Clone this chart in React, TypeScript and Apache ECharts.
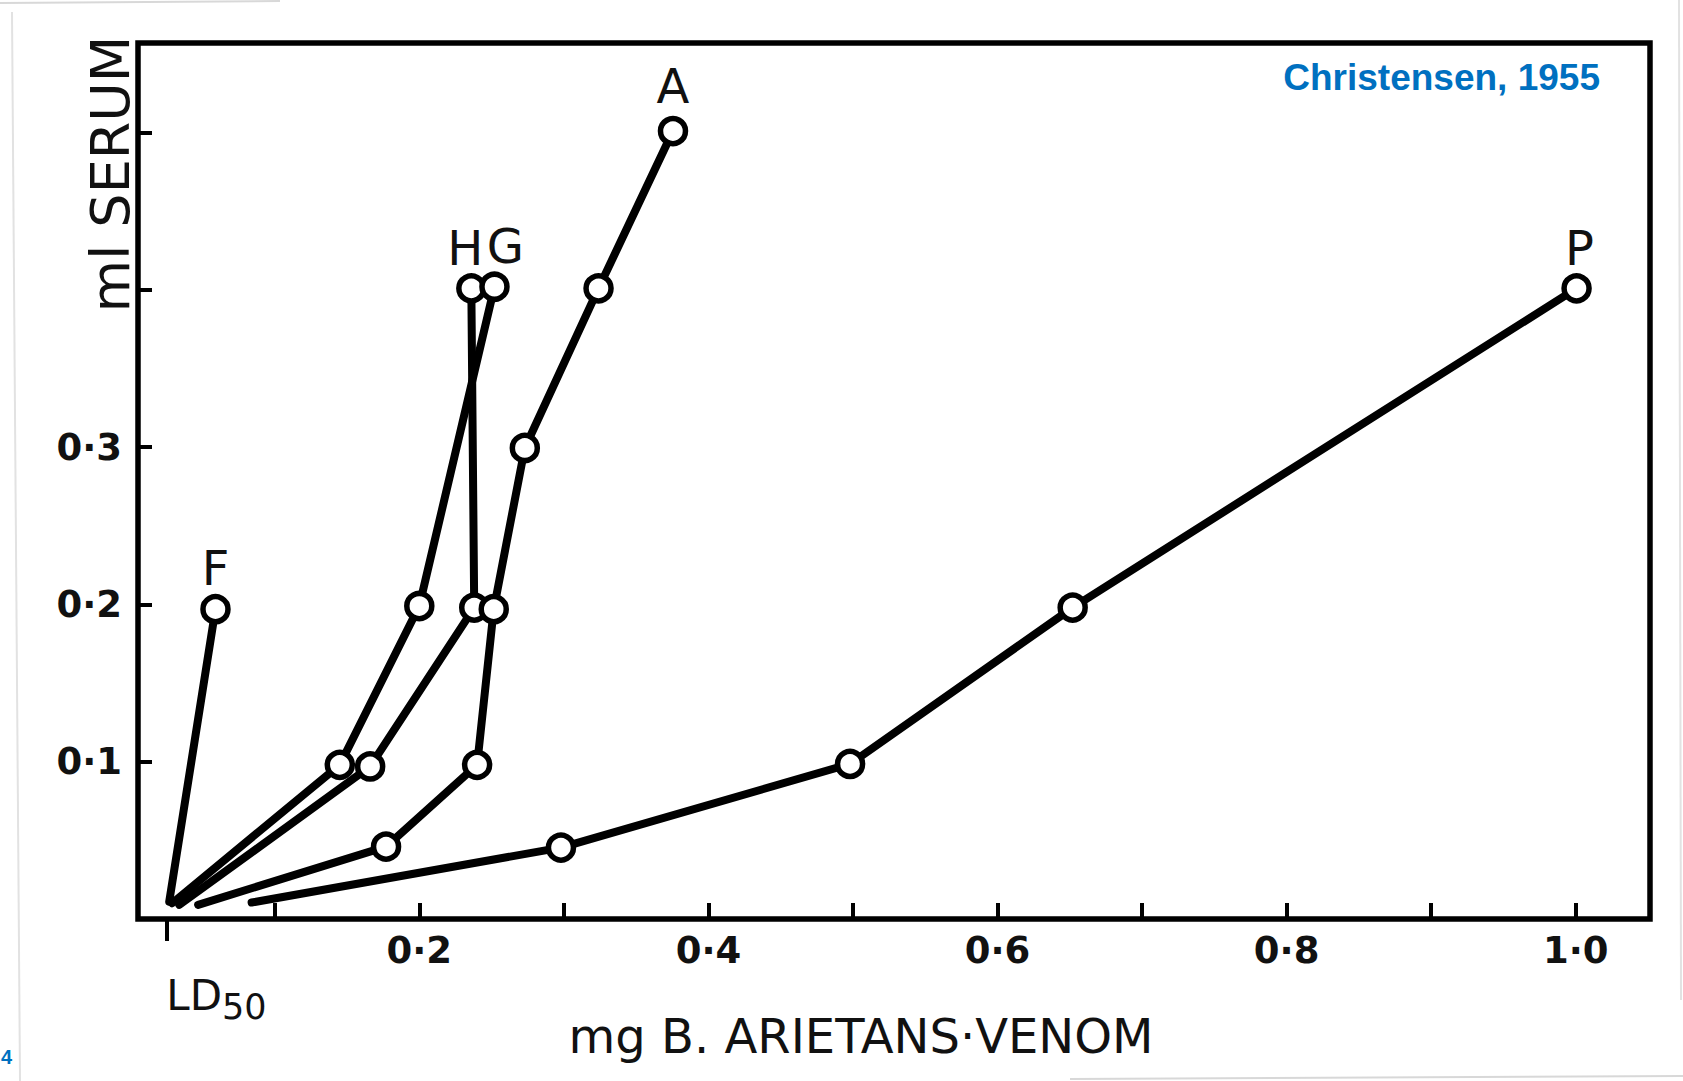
import React, { useEffect, useRef } from "react";
import * as echarts from "echarts";

// ---- data (mg venom, ml serum) ----
const F_X = [0.027, 0.059];
const F_Y = [0.011, 0.197];
const H_X = [0.034, 0.166, 0.238, 0.236];
const H_Y = [0.009, 0.097, 0.198, 0.401];
const G_X = [0.029, 0.145, 0.2, 0.252];
const G_Y = [0.01, 0.098, 0.199, 0.402];
const A_X = [0.047, 0.177, 0.24, 0.2515, 0.273, 0.324, 0.3755];
const A_Y = [0.009, 0.046, 0.098, 0.197, 0.2995, 0.401, 0.501];
const P_X = [0.084, 0.298, 0.498, 0.652, 1.0006];
const P_Y = [0.0105, 0.0454, 0.0986, 0.198, 0.401];

const SERIES_NAMES = ["F", "H", "G", "A", "P"];
const X_TICKS = [0.1, 0.2, 0.3, 0.4, 0.5, 0.6, 0.7, 0.8, 0.9, 1.0];
const X_LABELS = [0.2, 0.4, 0.6, 0.8, 1.0];
const Y_TICKS = [0.1, 0.2, 0.3, 0.4, 0.5];
const Y_LABELS = [0.1, 0.2, 0.3];
const LD50 = [0.025];

const X_MIN = 0.0054;
const X_MAX = 1.0514;
const Y_MIN = 0;
const Y_MAX = 0.557;

const FONT = "DejaVu Sans";
const INK = "#111";

function fmt(v: number) {
  return v.toFixed(1).replace(".", "·");
}

function build(xs: number[], ys: number[], name: string, off: number[]) {
  return xs.map((x, i) => {
    const item: any = { value: [x, ys[i]] };
    if (i === 0) item.symbol = "none";
    if (i === xs.length - 1) {
      item.label = {
        show: true,
        position: "inside",
        formatter: name,
        offset: off,
        fontFamily: FONT,
        fontSize: 48,
        color: INK,
      };
    }
    return item;
  });
}

export default function App() {
  const ref = useRef<HTMLDivElement>(null);

  useEffect(() => {
    document.body.style.margin = "0";
    if (!ref.current) return;
    const chart = echarts.init(ref.current, null, { renderer: "svg" });

    const offsets: Record<string, number[]> = {
      F: [0, -41],
      H: [-6, -40],
      G: [11, -41],
      A: [0, -45],
      P: [3, -40],
    };
    const sets: Record<string, [number[], number[]]> = {
      F: [F_X, F_Y],
      H: [H_X, H_Y],
      G: [G_X, G_Y],
      A: [A_X, A_Y],
      P: [P_X, P_Y],
    };

    const series = SERIES_NAMES.map((n) => ({
      type: "line",
      name: n,
      xAxisIndex: 0,
      yAxisIndex: 0,
      data: build(sets[n][0], sets[n][1], n, offsets[n]),
      symbol: "circle",
      symbolSize: 25,
      showAllSymbol: true,
      lineStyle: { color: "#000", width: 8, cap: "round", join: "round" },
      itemStyle: { color: "#fff", borderColor: "#000", borderWidth: 5.5 },
      emphasis: { disabled: true },
      clip: false,
    }));

    chart.setOption({
      animation: false,
      backgroundColor: "#fff",
      grid: {
        left: 138,
        right: 33,
        top: 43,
        bottom: 162,
        show: true,
        borderColor: "#000",
        borderWidth: 5.5,
        backgroundColor: "transparent",
      },
      xAxis: [
        {
          type: "value",
          min: X_MIN,
          max: X_MAX,
          position: "bottom",
          axisLine: { show: false },
          splitLine: { show: false },
          axisTick: {
            show: true,
            inside: true,
            length: 16,
            customValues: X_TICKS,
            lineStyle: { color: "#000", width: 4 },
          },
          axisLabel: {
            show: true,
            customValues: X_LABELS,
            formatter: (v: number) => fmt(v),
            margin: 13,
            fontFamily: FONT,
            fontWeight: "bold",
            fontSize: 37,
            color: INK,
          },
        },
        {
          type: "value",
          min: X_MIN,
          max: X_MAX,
          position: "bottom",
          offset: 0,
          axisLine: { show: false },
          splitLine: { show: false },
          axisTick: {
            show: true,
            inside: false,
            length: 22,
            customValues: LD50,
            lineStyle: { color: "#000", width: 4 },
          },
          axisLabel: {
            show: true,
            customValues: LD50,
            formatter: () => "{a|LD}{b|50}",
            align: "left",
            margin: 55,
            rich: {
              a: { fontFamily: FONT, fontSize: 42, lineHeight: 42, verticalAlign: "top", color: INK },
              b: {
                fontFamily: FONT,
                fontSize: 35,
                lineHeight: 35,
                padding: [15, 0, 0, 0],
                verticalAlign: "top",
                color: INK,
              },
            },
          },
        },
      ],
      yAxis: {
        type: "value",
        min: Y_MIN,
        max: Y_MAX,
        axisLine: { show: false },
        splitLine: { show: false },
        axisTick: {
          show: true,
          inside: true,
          length: 14,
          customValues: Y_TICKS,
          lineStyle: { color: "#000", width: 4 },
        },
        axisLabel: {
          show: true,
          customValues: Y_LABELS,
          formatter: (v: number) => fmt(v),
          margin: 16,
          fontFamily: FONT,
          fontWeight: "bold",
          fontSize: 37,
          color: INK,
        },
      },
      series,
      graphic: [
        {
          type: "text",
          x: 110,
          y: 174,
          rotation: Math.PI / 2,
          style: {
            text: "ml SERUM",
            fontFamily: FONT,
            fontSize: 54,
            fill: INK,
            align: "center",
            verticalAlign: "middle",
          },
        },
        {
          type: "text",
          x: 861,
          y: 1036,
          style: {
            text: "mg B. ARIETANS·VENOM",
            fontFamily: FONT,
            fontSize: 48,
            fill: INK,
            align: "center",
            verticalAlign: "middle",
          },
        },
        {
          type: "text",
          x: 1600,
          y: 77,
          style: {
            text: "Christensen, 1955",
            fontFamily: "Liberation Sans",
            fontWeight: "bold",
            fontSize: 37,
            fill: "#0070C0",
            align: "right",
            verticalAlign: "middle",
          },
        },
        {
          type: "text",
          x: 1,
          y: 1057,
          style: {
            text: "4",
            fontFamily: "Liberation Sans",
            fontWeight: "bold",
            fontSize: 20,
            fill: "#0070C0",
            align: "left",
            verticalAlign: "middle",
          },
        },
        {
          type: "line",
          shape: { x1: 0, y1: 3, x2: 280, y2: 1 },
          style: { stroke: "#d8d8d8", lineWidth: 2 },
        },
        {
          type: "line",
          shape: { x1: 12, y1: 12, x2: 20, y2: 1081 },
          style: { stroke: "#e2e2e2", lineWidth: 2 },
        },
        {
          type: "line",
          shape: { x1: 1679, y1: 0, x2: 1681, y2: 1000 },
          style: { stroke: "#e2e2e2", lineWidth: 2 },
        },
        {
          type: "line",
          shape: { x1: 1070, y1: 1079, x2: 1683, y2: 1076 },
          style: { stroke: "#d8d8d8", lineWidth: 2 },
        },
      ],
    });

    return () => chart.dispose();
  }, []);

  return <div ref={ref} style={{ width: 1683, height: 1081 }} />;
}
